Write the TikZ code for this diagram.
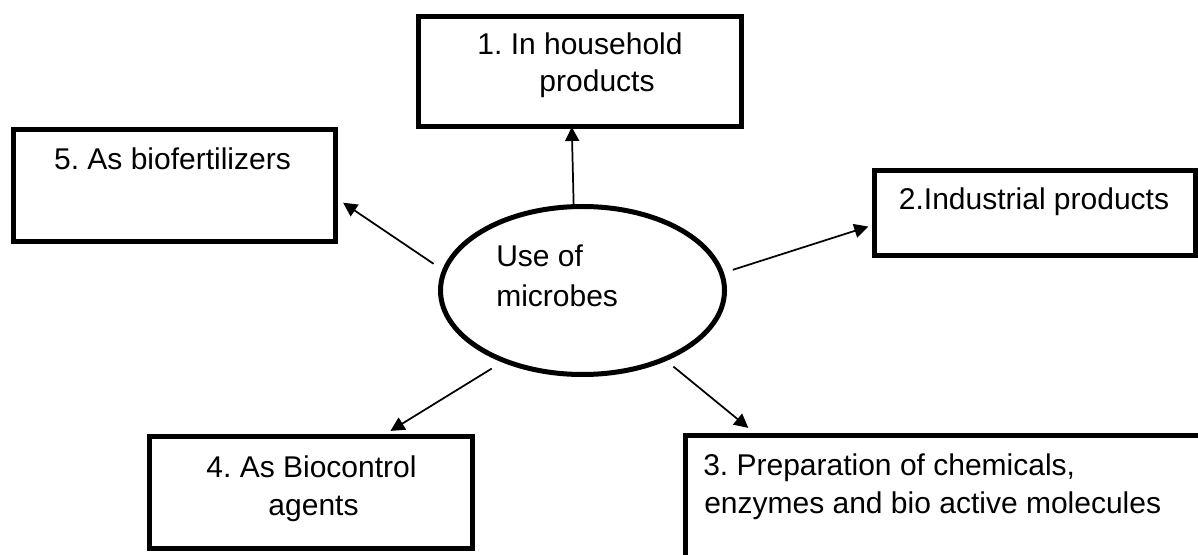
\documentclass[tikz,border=0pt]{standalone}
\usepackage{fontspec}
\setmainfont{Liberation Sans}
\usetikzlibrary{arrows.meta,shapes.geometric,calc}
\frenchspacing
\begin{document}
\begin{tikzpicture}[x=0.75pt,y=-0.75pt,
  box/.style={draw, line width=3.75pt, rectangle, inner sep=0pt, outer sep=0pt},
  oval/.style={draw, line width=3.75pt, ellipse, inner sep=0pt, outer sep=0pt, minimum width=213pt, minimum height=126pt},
  lbl/.style={anchor=base, inner sep=0pt, font=\fontsize{22.5pt}{28.5pt}\selectfont},
  lbll/.style={lbl, anchor=base west},
  arr/.style={line width=1.3pt, -{Triangle[length=10.5pt,width=10.5pt]}}]
\useasboundingbox (0,0) rectangle (1198,555);
\clip (0,0) rectangle (1198,555);
% boxes
\node[box, minimum width=242.25pt, minimum height=82.5pt] (b1) at (579.5,72) {};
\node[box, minimum width=240.75pt, minimum height=63.75pt] (b2) at (1034.5,213.5) {};
\node[box, minimum width=431.25pt, minimum height=153.75pt] (b3) at (972.5,537.5) {};
\node[box, minimum width=242.25pt, minimum height=84pt] (b4) at (310.5,492) {};
\node[box, minimum width=241.5pt, minimum height=84pt] (b5) at (174,186) {};
\node[oval] (e) at (582.5,290.5) {};
% texts
\node[lbl] (t1a) at (580,55) {1. In household};
\node[lbl] (t1b) at (597,92) {products};
\node[lbl] (t2) at (1034,210) {2.Industrial products};
\node[lbll] (t3a) at (703,475) {3. Preparation of chemicals,};
\node[lbll] (t3b) at (704,513) {enzymes and bio active molecules};
\node[lbl] (t4a) at (311.5,477) {4. As Biocontrol};
\node[lbl] (t4b) at (313.5,515) {agents};
\node[lbl] (t5) at (172.5,170) {5. As biofertilizers};
\node[lbll] (tea) at (496,267) {Use of};
\node[lbll] (teb) at (496,307) {microbes};
% arrows
\draw[arr] (e.96.5) -- (b1.262.2);
\draw[arr, shorten <=8.85pt, shorten >=4.5pt] (e.7.9) -- (b2.184.2);
\draw[arr, shorten <=8.8pt, shorten >=8.4pt] (e.-40.7) -- ($(b3.north west)+(72,0)$);
\draw[arr, shorten <=11.25pt, shorten >=7.3pt] (e.222.7) -- (b4.38.2);
\draw[arr, shorten <=9.75pt, shorten >=7.3pt] (e.172.6) -- (b5.-4);
\end{tikzpicture}
\end{document}
